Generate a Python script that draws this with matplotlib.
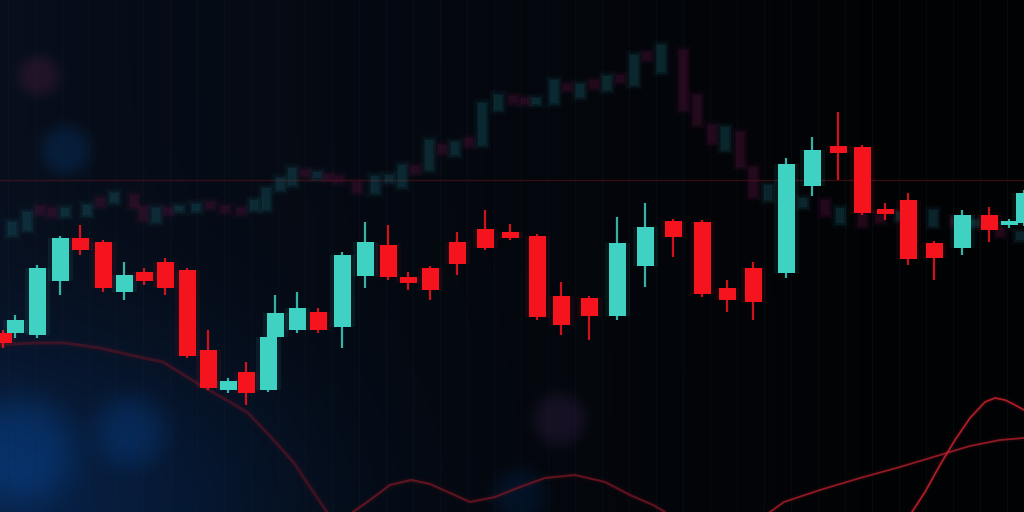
import numpy as np
import matplotlib
matplotlib.use("Agg")
import matplotlib.pyplot as plt

# ---------------- data (price level units) ----------------
# foreground candles
fg_x = [3, 15, 37, 60, 80, 103, 124, 144, 165, 187, 208, 228, 246, 268, 275, 297, 318, 342,
        365, 388, 408, 430, 457, 485, 510, 537, 561, 589, 617, 645, 673, 702, 727, 753, 786,
        812, 838, 862, 885, 908, 934, 962, 989, 1009, 1024]
fg_open = [179, 179, 177, 231, 274, 270, 220, 240, 250, 242, 162, 122, 140, 122, 175, 182, 200, 185,
           236, 267, 235, 244, 270, 283, 280, 276, 216, 214, 196, 246, 291, 290, 224, 244, 239,
           326, 366, 365, 303, 312, 269, 264, 297, 287, 289]
fg_close = [169, 192, 244, 274, 262, 224, 237, 231, 224, 156, 124, 131, 119, 175, 199, 204, 182, 257,
            270, 235, 229, 222, 248, 264, 274, 195, 187, 196, 269, 285, 275, 218, 212, 210, 348,
            362, 359, 299, 298, 253, 254, 297, 282, 290, 319]
fg_high = [182, 197, 247, 276, 287, 272, 250, 244, 254, 244, 182, 134, 150, 177, 217, 220, 204, 260,
           290, 287, 240, 246, 280, 302, 288, 278, 230, 216, 295, 309, 293, 292, 232, 250, 354,
           375, 400, 367, 309, 319, 271, 302, 305, 293, 322]
fg_low = [164, 174, 174, 217, 257, 220, 212, 227, 217, 154, 122, 119, 107, 120, 172, 179, 179, 164,
          224, 232, 222, 212, 237, 262, 272, 192, 177, 172, 192, 225, 255, 215, 200, 192, 234,
          316, 332, 297, 292, 247, 232, 257, 270, 284, 286]

# faded background candles
bg_x = [12, 27, 40, 52, 65, 87, 100, 114, 134, 143, 156, 168, 179, 196, 210, 225, 241, 254, 266,
        280, 292, 305, 317, 328, 339, 357, 375, 389, 402, 415, 429, 442, 455, 469, 482, 498, 513,
        525, 536, 554, 567, 580, 594, 607, 620, 634, 647, 661, 683, 697, 712, 725, 740, 753, 768,
        785, 803, 825, 840, 862, 880, 900, 933, 955, 975, 1000, 1020]
bg_open = [277, 282, 306, 304, 296, 297, 314, 310, 317, 305, 290, 304, 301, 301, 310, 306, 304, 302,
           302, 322, 327, 342, 334, 338, 336, 330, 319, 330, 325, 346, 342, 367, 357, 374, 367, 402,
           416, 414, 408, 409, 428, 415, 432, 422, 437, 427, 460, 440, 462, 417, 387, 362, 380, 345,
           312, 322, 305, 312, 289, 298, 297, 292, 286, 294, 286, 284, 272]
bg_close = [290, 300, 298, 296, 304, 307, 306, 319, 305, 292, 304, 298, 306, 308, 304, 300, 298, 312,
            324, 334, 344, 336, 340, 332, 330, 320, 336, 337, 347, 339, 372, 359, 370, 366, 409, 417,
            409, 408, 414, 432, 422, 428, 424, 436, 430, 457, 452, 467, 402, 387, 369, 385, 345, 315,
            327, 314, 314, 297, 304, 286, 290, 300, 302, 287, 292, 276, 280]

# oscillator-style curves at the bottom
curve1_x = [0, 30, 65, 100, 130, 163, 200, 230, 248, 270, 294, 312, 327]
curve1_y = [167, 169, 169, 164, 157, 150, 127, 110, 99, 76, 49, 22, 0]
curve2_x = [353, 370, 390, 411, 430, 450, 470, 495, 520, 545, 575, 605, 630, 653, 665]
curve2_y = [0, 12, 27, 32, 28, 19, 10, 15, 25, 34, 37, 30, 17, 7, 0]
curve3_x = [770, 784, 820, 860, 900, 940, 970, 1000, 1024]
curve3_y = [0, 10, 22, 34, 45, 57, 66, 72, 74]
curve4_x = [912, 925, 940, 955, 970, 985, 995, 1005, 1015, 1024]
curve4_y = [0, 20, 47, 72, 94, 110, 114, 112, 107, 102]
ref_level = 332

# ---------------- figure ----------------
fig = plt.figure(figsize=(10.24, 5.12), dpi=100)
ax = fig.add_axes([0, 0, 1, 1])
ax.set_xlim(0, 1024)
ax.set_ylim(0, 512)
ax.axis("off")

# background: gradient + soft bokeh discs, rendered as an image
W, H = 512, 256
px = np.linspace(0, 1024, W)[None, :]
py = np.linspace(512, 0, H)[:, None]          # row 0 = top
t = np.clip(px / 900.0, 0, 1) ** 0.8
left = np.array([0.030, 0.060, 0.115])
right = np.array([0.006, 0.010, 0.016])
img = left * (1 - t[..., None]) + right * t[..., None]
img = img * np.ones((H, W, 1))
g = np.exp(-(((px - 30) / 260.0) ** 2 + ((py - 0) / 170.0) ** 2))
img += g[..., None] * np.array([0.0, 0.07, 0.16])

def disc(cx, cy, r, rgb, soft):
    d = np.sqrt((px - cx) ** 2 + (py - cy) ** 2)
    m = np.clip((r - d) / soft, 0, 1)
    m = m * m * (3 - 2 * m)
    return m[..., None] * np.array(rgb)

img += disc(38, 437, 30, (0.10, 0.02, 0.05), 22)
img += disc(65, 362, 36, (0.0, 0.06, 0.12), 26)
img += disc(560, 92, 38, (0.07, 0.04, 0.09), 26)
img += disc(130, 80, 55, (0.0, 0.06, 0.13), 45)
img += disc(20, 60, 80, (0.0, 0.07, 0.15), 60)
img += disc(520, 15, 40, (0.0, 0.04, 0.09), 30)
ax.imshow(np.clip(img, 0, 1), extent=[0, 1024, 0, 512], aspect="auto",
          interpolation="bilinear", zorder=0)

# faint vertical grid
for gxv in np.arange(8, 1024, 27):
    ax.axvline(gxv, color="#1a2436", lw=0.6, alpha=0.25, zorder=1)
ax.axhline(ref_level, color="#4a1218", lw=1.0, alpha=0.7, zorder=1)

# faded background candles (blurred look)
teal_bg = "#1d6470"
red_bg = "#5e1640"
for x, o, c in zip(bg_x, bg_open, bg_close):
    col = teal_bg if c >= o else red_bg
    hgt = c - o if abs(c - o) > 3 else 4
    bot = o if abs(c - o) > 3 else o - 2
    for w, ext, a in ((18, 5, 0.05), (14, 3, 0.08), (11, 1.5, 0.12), (8, 0, 0.18)):
        ax.bar(x, hgt + np.sign(hgt) * 2 * ext, bottom=bot - np.sign(hgt) * ext,
               width=w, color=col, alpha=a, lw=0, zorder=2)

# bottom curves
for cx, cy, col, lw, a in ((curve1_x, curve1_y, "#5c1424", 2.2, 0.6),
                           (curve2_x, curve2_y, "#7a1624", 1.6, 0.75),
                           (curve3_x, curve3_y, "#b01e2a", 1.3, 0.8),
                           (curve4_x, curve4_y, "#c8222c", 1.3, 0.85)):
    ax.plot(cx, cy, color=col, lw=lw * 3, alpha=a * 0.12, solid_capstyle="round", zorder=3)
    ax.plot(cx, cy, color=col, lw=lw, alpha=a, solid_capstyle="round", zorder=3)

# foreground candles
teal = "#3fd2c2"
red = "#f5141e"
for x, o, c, h, l in zip(fg_x, fg_open, fg_close, fg_high, fg_low):
    col = teal if c >= o else red
    body = c - o if abs(c - o) >= 4 else (4 if c >= o else -4)
    ax.vlines(x, l, h, color=col, lw=1.6, alpha=0.85, zorder=4)
    ax.bar(x, body, bottom=o, width=25, color=col, alpha=0.08, lw=0, zorder=4)
    ax.bar(x, body, bottom=o, width=17, color=col, lw=0, zorder=5)

fig.savefig("out.png", dpi=100, facecolor="#03060c")
